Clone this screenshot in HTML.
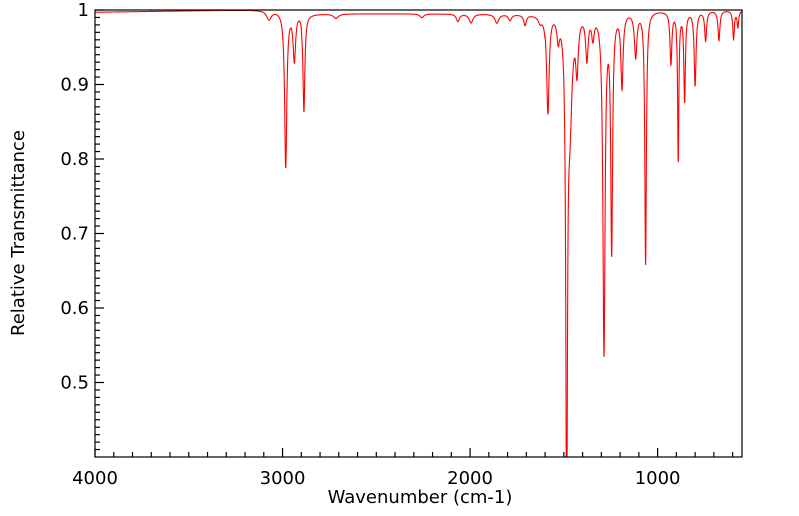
<!DOCTYPE html>
<html><head><meta charset="utf-8"><style>
html,body{margin:0;padding:0;background:#fff;overflow:hidden;width:799px;height:516px;}
svg{display:block;font-family:"DejaVu Sans","Liberation Sans",sans-serif;}
</style></head><body>
<svg id="chart" width="799" height="516">
<defs><clipPath id="plotclip"><rect x="95" y="10" width="647" height="447"/></clipPath></defs>
<g id="ticks"></g>
<path id="spectrum" fill="none" stroke="#ff0000" stroke-width="1.1" clip-path="url(#plotclip)"/>
<rect x="95" y="10" width="647" height="447" fill="none" stroke="#000" stroke-width="1.2"/>
<g id="labels"></g>
<text x="420" y="503" text-anchor="middle" font-size="18">Wavenumber (cm-1)</text>
<text x="24" y="233" text-anchor="middle" font-size="18" transform="rotate(-90 24 233)">Relative Transmittance</text>
</svg>
<script>
const peakCenters = [3072,2983,2937,2886,2715,2257,2065,1995,1857,1787,1707,1627,1585,1530,1485,1468,1430,1377,1345,1286,1245,1190,1117,1064,929,890,856,800,744,673,595,572];
const peakDepths  = [0.012,0.21,0.065,0.13,0.006,0.005,0.01,0.012,0.012,0.008,0.014,0.008,0.135,0.03,0.72,0.14,0.07,0.06,0.03,0.46,0.32,0.1,0.06,0.34,0.07,0.2,0.12,0.1,0.04,0.04,0.038,0.022];
const peakWidths  = [15,7,8,6,15,12,10,12,12,10,8,10,8,8,5,14,8,8,8,7,6,7,8,5,6,4,5,6,6,6,5,5];
const xTickLabels = [4000,3000,2000,1000];
const yTickLabels = [1,0.9,0.8,0.7,0.6,0.5];
const xMin=550,xMax=4000,yMin=0.4,yMax=1.0;
const L=95,R=742,T=10,B=457;
const sx=w=>L+(xMax-w)/(xMax-xMin)*(R-L);
const sy=v=>B-(v-yMin)/(yMax-yMin)*(B-T);
function trans(w){
  let base = w>3200 ? 0.997+0.003*(4000-w)/800 : 1.0;
  if(w<2900&&w>1600) base-=0.005;
  let t=base;
  for(let i=0;i<peakCenters.length;i++){
    const d=(w-peakCenters[i])/peakWidths[i];
    t*=1-peakDepths[i]/(1+d*d);
  }
  return t;
}
let d='';
for(let w=xMax;w>=xMin;w-=0.5){d+=(w===xMax?'M':'L')+sx(w).toFixed(2)+','+sy(trans(w)).toFixed(2);}
document.getElementById('spectrum').setAttribute('d',d);
const NS='http://www.w3.org/2000/svg';
const tg=document.getElementById('ticks'),lg=document.getElementById('labels');
function line(x1,y1,x2,y2,name){const l=document.createElementNS(NS,'line');l.setAttribute('x1',x1);l.setAttribute('y1',y1);l.setAttribute('x2',x2);l.setAttribute('y2',y2);l.setAttribute('stroke','#000');l.setAttribute('stroke-width','1.2');


tg.appendChild(l);}
for(let w=600;w<=4000;w+=100){const x=sx(w);const major=w%1000===0;line(x,B,x,B-(major?9:5),major?'x-major-tick':'x-minor-tick');}
for(let k=41;k<=100;k++){const v=k/100;const y=sy(v);const major=k%10===0;line(L,y,L+(major?9:5),y,major?'y-major-tick':'y-minor-tick');}
function text(x,y,s,anchor,name){const t=document.createElementNS(NS,'text');t.setAttribute('x',x);t.setAttribute('y',y);t.setAttribute('text-anchor',anchor);t.setAttribute('font-size','18');t.textContent=s;


lg.appendChild(t);}
xTickLabels.forEach(w=>text(sx(w),484,String(w),'middle','x-tick-label'));
yTickLabels.forEach(v=>text(89,sy(v)+6,String(v),'end','y-tick-label'));
</script>
</body></html>
